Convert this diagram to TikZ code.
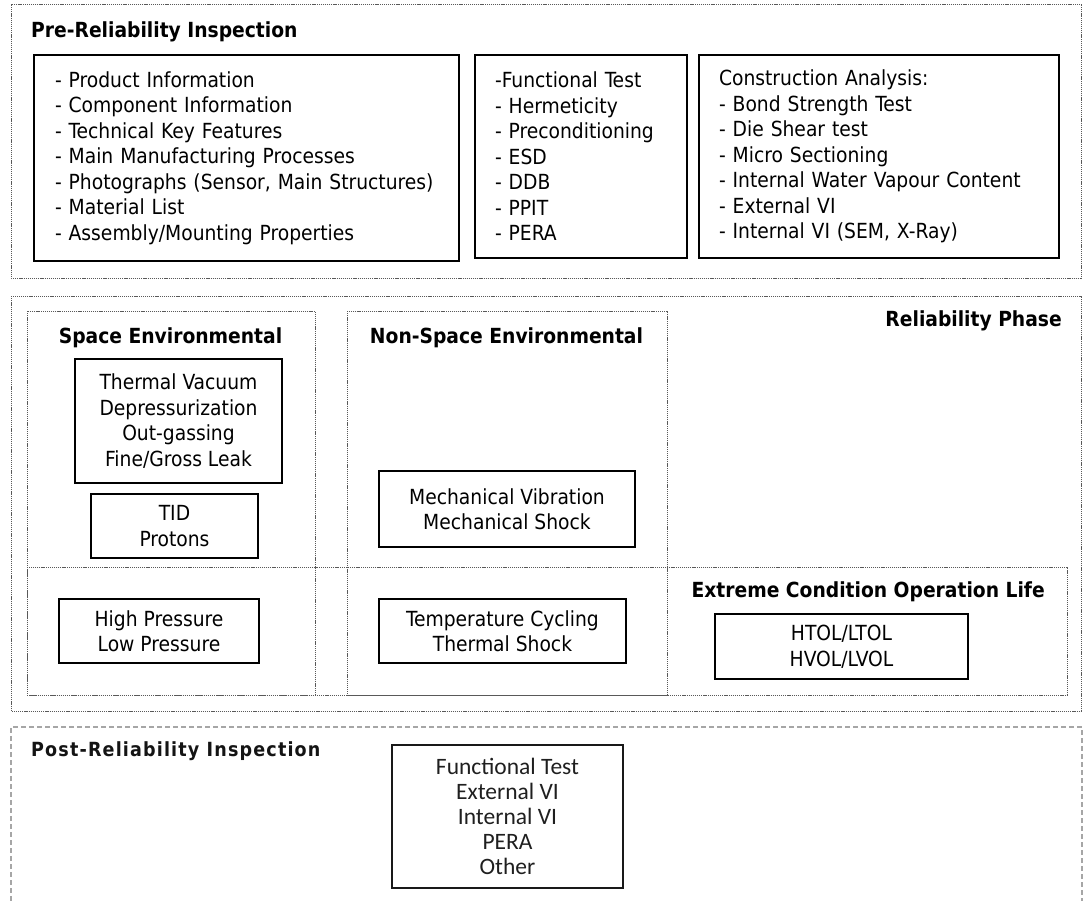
\documentclass[tikz,border=0pt]{standalone}
\usepackage{fontspec}
\setmainfont{DejaVu Sans Condensed}
\newfontfamily\postfont{Carlito}
\newfontfamily\posttitlefont{DejaVu Sans Condensed}[LetterSpace=6]
\begin{document}
\begin{tikzpicture}[x=1pt,y=-1pt,
  every node/.style={font=\fontsize{20.8pt}{25.5pt}\selectfont},
  frame/.style={draw=black!65, line width=1pt, dash pattern=on 1.2pt off 0.9pt},
  postframe/.style={draw=black!35, line width=2pt, dash pattern=on 5pt off 3pt},
  solidbox/.style={draw=black, line width=2pt, rectangle, inner ysep=0pt},
  listbox/.style={solidbox, align=left},
  ctrbox/.style={solidbox, align=center, inner xsep=0pt},
  head/.style={font=\fontsize{20.8pt}{25.5pt}\selectfont\bfseries, inner sep=0pt}]
\useasboundingbox (0,0) rectangle (1083,901);

% ---------------- Pre-Reliability Inspection ----------------
\draw[frame] (11,5) rectangle (1081,278);
\node[head, anchor=base west] (pretitle) at (31,37.7) {Pre-Reliability Inspection};

\node[listbox, text width=383pt, inner xsep=21pt, minimum height=206pt] (prodinfo) at (246.5,158)
  {- Product Information\\
   - Component Information\\
   - Technical Key Features\\
   - Main Manufacturing Processes\\
   - Photographs (Sensor, Main Structures)\\
   - Material List\\
   - Assembly/Mounting Properties};

\node[listbox, text width=172pt, inner xsep=20pt, minimum height=203pt] (tests) at (581,156.5)
  {-Functional Test\\
   - Hermeticity\\
   - Preconditioning\\
   - ESD\\
   - DDB\\
   - PPIT\\
   - PERA};

\node[listbox, text width=320pt, inner xsep=20pt, minimum height=203pt] (construct) at (879,156.5)
  {Construction Analysis:\\
   - Bond Strength Test\\
   - Die Shear test\\
   - Micro Sectioning\\
   - Internal Water Vapour Content\\
   - External VI\\
   - Internal VI (SEM, X-Ray)};

% ---------------- Reliability Phase ----------------
\draw[frame] (11,296) rectangle (1081,711);
\draw[frame] (27,311) rectangle (315,695);
\draw[frame] (347,311) rectangle (667,695);
\draw[frame] (27,567) rectangle (1067,695);

\node[head, anchor=base east] (reltitle) at (1062,326) {Reliability Phase};
\node[head, anchor=base] (spacetitle) at (170.5,343) {Space Environmental};
\node[head, anchor=base] (nonspacetitle) at (506.5,343) {Non-Space Environmental};
\node[head, anchor=base east] (extremetitle) at (1045,597) {Extreme Condition Operation Life};

\node[ctrbox, minimum width=207pt, minimum height=124pt] (thermvac) at (178.5,421)
  {Thermal Vacuum\\Depressurization\\Out-gassing\\Fine/Gross Leak};
\node[ctrbox, minimum width=167pt, minimum height=64pt] (tid) at (174.5,526)
  {TID\\Protons};
\node[ctrbox, minimum width=256pt, minimum height=76pt] (mech) at (507,509)
  {Mechanical Vibration\\Mechanical Shock};
\node[ctrbox, minimum width=200pt, minimum height=64pt] (pressure) at (159,631)
  {High Pressure\\Low Pressure};
\node[ctrbox, minimum width=247pt, minimum height=64pt] (tempcyc) at (502.5,631)
  {Temperature Cycling\\Thermal Shock};
\node[ctrbox, minimum width=253pt, minimum height=65pt] (oplife) at (841.5,646.5)
  {HTOL/LTOL\\HVOL/LVOL};

% ---------------- Post-Reliability Inspection ----------------
\draw[postframe] (11,901) -- (11,727) -- (1082,727) -- (1082,901);
\node[anchor=base west, inner sep=0pt, text=black!92,
      font=\posttitlefont\fontsize{19.5pt}{24pt}\selectfont\bfseries] (posttitle) at (31,756)
  {Post-Reliability Inspection};
\node[ctrbox, draw=black!90, text=black!88, minimum width=231pt, minimum height=143pt,
      font=\postfont\fontsize{23.5pt}{25.2pt}\selectfont] (postchecks) at (507.5,816.5)
  {Functional Test\\External VI\\Internal VI\\PERA\\Other};
\end{tikzpicture}
\end{document}
